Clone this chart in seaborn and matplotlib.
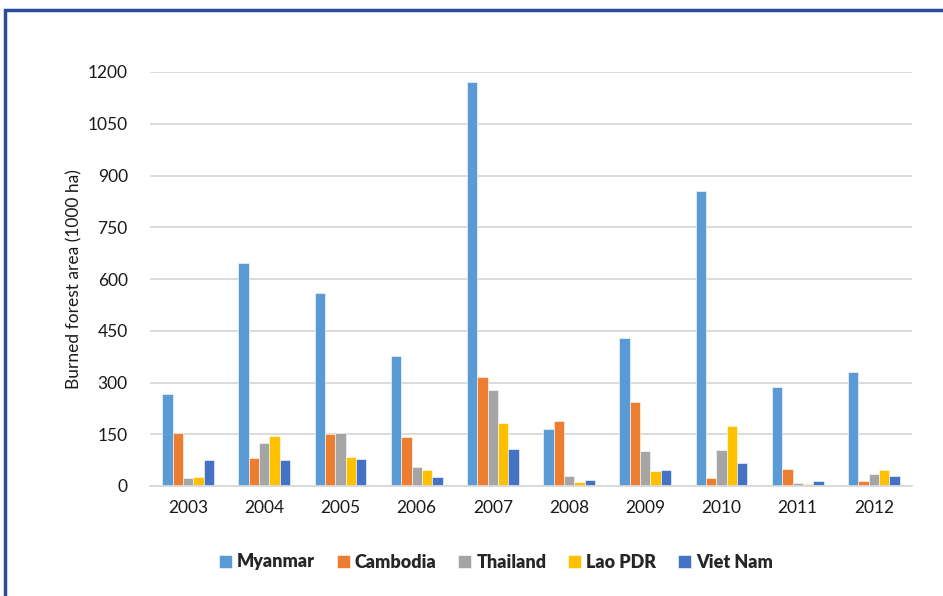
import pandas as pd
import numpy as np
import matplotlib.pyplot as plt
import seaborn as sns
from matplotlib.patches import Rectangle

years = ['2003', '2004', '2005', '2006', '2007', '2008', '2009', '2010', '2011', '2012']
countries = ['Myanmar', 'Cambodia', 'Thailand', 'Lao PDR', 'Viet Nam']

myanmar = [266, 647, 560, 378, 1171, 166, 430, 854, 287, 329]
cambodia = [154, 82, 152, 142, 316, 188, 243, 22, 50, 14]
thailand = [23, 125, 155, 56, 278, 29, 101, 103, 8, 34]
lao = [27, 146, 83, 47, 184, 13, 44, 173, 7, 45]
vietnam = [75, 74, 78, 27, 108, 18, 46, 66, 14, 28]

colors = ['#5B9BD5', '#ED7D31', '#A5A5A5', '#FFC000', '#4472C4']

# long-form table for seaborn
df = pd.DataFrame({'Myanmar': myanmar, 'Cambodia': cambodia, 'Thailand': thailand,
                   'Lao PDR': lao, 'Viet Nam': vietnam}, index=years)
df = df.reset_index().rename(columns={'index': 'Year'})
long_df = df.melt(id_vars='Year', var_name='Country', value_name='Area')

sns.set_style('white')
plt.rcParams['font.family'] = ['Lato', 'DejaVu Sans']

fig = plt.figure(figsize=(9.43, 5.96), dpi=100)
ax = fig.add_axes([150 / 943, 1 - 486 / 596, 762 / 943, 414 / 596])

sns.barplot(data=long_df, x='Year', y='Area', hue='Country', hue_order=countries,
            palette=colors, width=0.68, saturation=1, edgecolor='white',
            linewidth=0.4, ax=ax, legend=True)

ax.set_ylim(0, 1200)
ax.set_xlim(-0.5, 9.5)
ax.set_yticks(np.arange(0, 1201, 150))
ax.yaxis.grid(True, color='#D9D9D9', linewidth=1.3)
ax.set_axisbelow(True)
for s in ['top', 'right', 'left']:
    ax.spines[s].set_visible(False)
ax.spines['bottom'].set_color('#D9D9D9')
ax.spines['bottom'].set_linewidth(1.3)
ax.tick_params(axis='both', length=0, labelsize=12.5, colors='#1a1a1a', pad=10)
ax.tick_params(axis='y', pad=16)
ax.set_xlabel('')
ax.set_ylabel('Burned forest area (1000 ha)', fontsize=12.5, color='#1a1a1a', labelpad=4)

handles, labels = ax.get_legend_handles_labels()
ax.legend(handles, labels, loc='center', bbox_to_anchor=(496 / 943, 1 - 562 / 596),
          bbox_transform=fig.transFigure, ncol=5, frameon=False, handlelength=0.7,
          handleheight=0.7, handletextpad=0.3, columnspacing=1.2,
          prop={'weight': 'heavy', 'size': 13})

# frame around the chart (top and left visible)
fig.patches.append(Rectangle((5 / 943, -0.05), 1.1, 1 - 10 / 596 + 0.05,
                             transform=fig.transFigure, fill=False,
                             edgecolor='#2E4A9A', linewidth=2.5, zorder=10))

fig.savefig('out.png', dpi=100)
